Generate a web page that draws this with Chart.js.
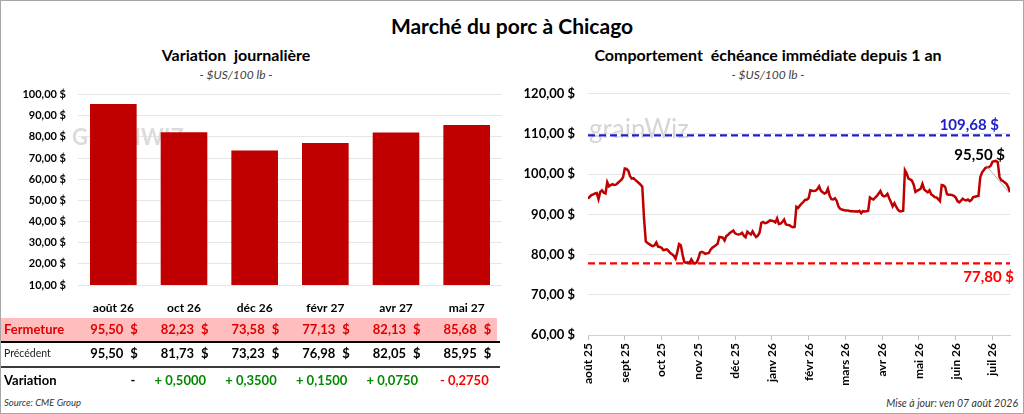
<!DOCTYPE html>
<html>
<head>
<meta charset="utf-8">
<script src="https://cdn.jsdelivr.net/npm/chart.js@4.4.1/dist/chart.umd.min.js"></script>
<style>
  html, body { margin: 0; padding: 0; background: #fff; }
  body { width: 1024px; height: 414px; position: relative; overflow: hidden; font-family: Lato, "Open Sans", sans-serif; }
  .frame { position: absolute; left: 0; top: 0; width: 1022px; height: 412px; border: 1px solid #a6a6a6; }
  .txt { position: absolute; white-space: pre; color: #000; }
  .title { font-weight: bold; font-size: 21px; left: 0; width: 1024px; text-align: center; top: 13px; }
  .sub { font-weight: bold; font-size: 16px; text-align: center; top: 45px; }
  .unit { font-style: italic; font-size: 12px; color: #404040; text-align: center; top: 67px; }
  canvas { position: absolute; }
</style>
</head>
<body>
<div class="frame"></div>
<div class="txt title">Marché du porc à Chicago</div>
<div class="txt sub" style="left:0;width:472px;">Variation  journalière</div>
<div class="txt unit" style="left:0;width:472px;">- $US/100 lb -</div>
<div class="txt sub" style="left:512px;width:512px;">Comportement  échéance immédiate depuis 1 an</div>
<div class="txt unit" style="left:512px;width:512px;">- $US/100 lb -</div>
<div class="txt" style="left:4px;top:397px;font-size:9.5px;font-style:italic;color:#333;">Source: CME Group</div>
<div class="txt" style="right:6px;top:397px;font-size:10.5px;font-style:italic;color:#333;">Mise à jour: ven 07 août 2026</div>

<div style="position:absolute;left:0;top:76px;width:512px;height:338px;"><canvas id="dayChart"></canvas></div>
<div style="position:absolute;left:512px;top:73px;width:512px;height:341px;"><canvas id="yearChart"></canvas></div>

<script>
// contrats du jour
var contracts = ['août 26', 'oct 26', 'déc 26', 'févr 27', 'avr 27', 'mai 27'];
var closeValues = [95.50, 82.23, 73.58, 77.13, 82.13, 85.68];
var prevValues = [95.50, 81.73, 73.23, 76.98, 82.05, 85.95];
var variations = [0, 0.5, 0.35, 0.15, 0.075, -0.275];

// échéance immédiate, séances depuis 1 an
var monthLabels = ['août 25', 'sept 25', 'oct 25', 'nov 25', 'déc 25', 'janv 26', 'févr 26', 'mars 26', 'avr 26', 'mai 26', 'juin 26', 'juil 26'];
var priceSeries = [
  93.9, 94.4, 94.8, 95.0, 95.2, 95.3, 93.8, 95.6, 96.0, 95.4,
  95.2, 98.0, 97.0, 97.3, 97.5, 97.3, 97.4, 97.8, 98.2, 98.6,
  99.2, 101.4, 101.3, 100.9, 99.5, 98.9, 99.0, 98.6, 98.2, 97.8,
  97.4, 96.9, 89.0, 83.3, 82.9, 82.6, 82.3, 82.1, 82.3, 83.0,
  82.0, 81.9, 81.7, 81.1, 81.2, 81.3, 80.9, 80.4, 80.1, 79.7,
  79.0, 80.6, 82.6, 82.3, 80.0, 78.1, 78.0, 78.1, 77.9, 78.8,
  78.1, 77.8, 78.0, 79.0, 80.5, 80.7, 80.5, 80.2, 80.3, 80.4,
  81.2, 81.7, 82.0, 82.3, 82.7, 84.4, 84.3, 84.2, 83.5, 84.6,
  84.9, 85.4, 85.7, 86.0, 85.3, 85.1, 85.0, 85.1, 85.4, 84.7,
  84.3, 85.7, 85.3, 85.0, 85.8, 85.0, 84.4, 84.7, 85.5, 87.9,
  88.1, 87.8, 87.9, 88.2, 88.5, 88.4, 88.3, 88.0, 89.0, 87.6,
  87.7, 88.1, 88.7, 87.5, 87.4, 87.3, 87.0, 86.8, 86.9, 91.9,
  91.6, 92.2, 92.7, 93.1, 93.6, 93.7, 94.0, 96.0, 95.9, 95.8,
  95.9, 96.3, 97.0, 95.9, 95.5, 95.2, 95.4, 96.4, 94.6, 93.8,
  93.7, 94.0, 93.4, 92.0, 91.4, 91.2, 91.1, 91.0, 91.0, 90.9,
  90.8, 90.8, 90.7, 90.8, 90.7, 90.9, 90.3, 90.8, 90.7, 90.8,
  90.9, 94.2, 93.9, 93.7, 94.2, 94.6, 95.2, 95.8, 94.8, 94.5,
  94.6, 95.1, 94.0, 93.1, 92.0, 92.8, 91.9, 91.2, 90.8, 90.8,
  90.9, 101.0, 100.2, 98.9, 98.7, 98.4, 97.4, 95.6, 95.9, 96.1,
  96.4, 97.6, 96.2, 95.8, 95.5, 96.0, 95.0, 94.7, 94.3, 94.2,
  93.8, 93.3, 97.3, 97.2, 96.8, 95.0, 94.9, 94.9, 94.8, 94.6,
  94.2, 93.3, 93.0, 93.4, 93.9, 93.6, 93.5, 93.7, 93.3, 93.6,
  94.3, 94.4, 94.5, 94.6, 99.2, 100.4, 101.0, 101.6, 101.7, 101.8,
  102.1, 103.1, 103.2, 103.3, 103.0, 99.3, 98.5, 98.3, 97.9, 97.6,
  96.8, 95.5
];
var monthStep = 21;
var highValue = 109.68;
var lowValue = 77.80;
var lastValue = 95.50;

var RED = '#c00000';
var FONT = 'Lato, "Open Sans", sans-serif';

function money(v) {
  return v.toFixed(2).replace('.', ',') + ' $';
}
function variationText(v) {
  if (v === 0) return '-';
  return (v > 0 ? '+ ' : '- ') + Math.abs(v).toFixed(4).replace('.', ',');
}

Chart.defaults.font.family = FONT;
Chart.defaults.color = '#000';

// tableau sous le graphique à barres
var tablePlugin = {
  id: 'table',
  afterDraw: function(chart) {
    var ctx = chart.ctx;
    var x = chart.scales.x;
    var top = 76;
    ctx.save();
    ctx.fillStyle = '#ffbdbd';
    ctx.fillRect(1, 318 - top, 496, 23);
    ctx.fillStyle = '#000';
    ctx.fillRect(1, 341 - top, 499, 2);
    ctx.fillStyle = '#3a3a3a';
    ctx.fillRect(1, 366 - top, 499, 2);

    ctx.textBaseline = 'middle';
    ctx.textAlign = 'left';
    ctx.font = 'bold 13px ' + FONT;
    ctx.fillStyle = '#e00000';
    ctx.fillText('Fermeture', 4, 330 - top);
    ctx.font = '10.5px ' + FONT;
    ctx.fillStyle = '#222';
    ctx.fillText('Précédent', 4, 354 - top);
    ctx.font = 'bold 13px ' + FONT;
    ctx.fillStyle = '#000';
    ctx.fillText('Variation', 4, 381 - top);

    contracts.forEach(function(c, i) {
      var cx = x.getPixelForValue(i);
      ctx.font = 'bold 13px ' + FONT;
      ctx.fillStyle = '#e00000';
      ctx.textAlign = 'right';
      ctx.fillText(closeValues[i].toFixed(2).replace('.', ','), cx + 10, 330 - top);
      ctx.textAlign = 'left';
      ctx.fillText('$', cx + 17, 330 - top);
      ctx.fillStyle = '#000';
      ctx.textAlign = 'right';
      ctx.fillText(prevValues[i].toFixed(2).replace('.', ','), cx + 10, 354 - top);
      ctx.textAlign = 'left';
      ctx.fillText('$', cx + 17, 354 - top);
      var v = variations[i];
      ctx.fillStyle = v > 0 ? '#008a00' : (v < 0 ? '#ff0000' : '#000');
      ctx.textAlign = 'right';
      ctx.fillText(variationText(v), cx + 22, 381 - top);
    });
    ctx.restore();
  }
};

var watermarkLeft = {
  id: 'wmLeft',
  beforeDatasetsDraw: function(chart) {
    var ctx = chart.ctx;
    ctx.save();
    ctx.font = 'bold 22px ' + FONT;
    ctx.fillStyle = '#dcdcdc';
    ctx.textBaseline = 'alphabetic';
    ctx.fillText('GRAINWIZ', chart.chartArea.left - 6, 145 - 76);
    ctx.restore();
  }
};

new Chart(document.getElementById('dayChart'), {
  type: 'bar',
  data: {
    labels: contracts,
    datasets: [{
      data: closeValues,
      backgroundColor: RED,
      borderWidth: 0,
      categoryPercentage: 1,
      barPercentage: 0.66
    }]
  },
  options: {
    responsive: true,
    maintainAspectRatio: false,
    animation: false,
    layout: { padding: { top: 10, right: 10, left: 0, bottom: 0 } },
    plugins: { legend: { display: false }, tooltip: { enabled: false } },
    scales: {
      x: {
        grid: { display: false },
        border: { display: false },
        ticks: { font: { size: 12, weight: 'bold' }, padding: 8, color: '#000' },
        afterFit: function(s) { s.height = 129; }
      },
      y: {
        min: 10,
        max: 100,
        ticks: { stepSize: 10, font: { size: 11, weight: 'bold' }, padding: 12, color: '#000', callback: function(v) { return money(v); } },
        grid: { color: '#e6e6e6', drawTicks: false },
        border: { display: false },
        afterFit: function(s) { s.width = 78; }
      }
    }
  },
  plugins: [watermarkLeft, tablePlugin]
});

var annotations = {
  id: 'annotations',
  beforeDatasetsDraw: function(chart) {
    var ctx = chart.ctx;
    ctx.save();
    ctx.font = '26px ' + FONT;
    ctx.fillStyle = '#d6d6d6';
    ctx.fillText('grainWiz', chart.chartArea.left + 1, 138 - 73);
    ctx.restore();
  },
  afterDatasetsDraw: function(chart) {
    var ctx = chart.ctx;
    var x = chart.scales.x, y = chart.scales.y;
    var right = chart.chartArea.right;
    ctx.save();
    ctx.font = 'bold 15px ' + FONT;
    ctx.textAlign = 'right';
    ctx.textBaseline = 'alphabetic';
    ctx.fillStyle = '#2020c8';
    ctx.fillText(money(highValue), right - 11, y.getPixelForValue(highValue) - 5);
    ctx.fillStyle = '#ff0000';
    ctx.fillText(money(lowValue), right + 4, y.getPixelForValue(lowValue) + 19);
    var lx = x.getPixelForValue(priceSeries.length - 1);
    var ly = y.getPixelForValue(lastValue);
    ctx.strokeStyle = '#a0a0a0';
    ctx.lineWidth = 0.8;
    ctx.beginPath();
    ctx.moveTo(lx - 24, ly - 27);
    ctx.lineTo(lx - 2, ly - 1);
    ctx.stroke();
    ctx.fillStyle = '#000';
    ctx.fillText(money(lastValue), lx - 5, ly - 32);
    ctx.restore();
  }
};

new Chart(document.getElementById('yearChart'), {
  type: 'line',
  data: {
    datasets: [
      {
        data: priceSeries.map(function(v, i) { return { x: i, y: v }; }),
        borderColor: RED,
        borderWidth: 2.5,
        pointRadius: 0,
        tension: 0
      },
      {
        data: [{ x: 0, y: highValue }, { x: priceSeries.length - 1, y: highValue }],
        borderColor: '#2020c8',
        borderWidth: 2.2,
        borderDash: [7, 4],
        pointRadius: 0
      },
      {
        data: [{ x: 0, y: lowValue }, { x: priceSeries.length - 1, y: lowValue }],
        borderColor: '#ff0000',
        borderWidth: 2.2,
        borderDash: [7, 4],
        pointRadius: 0
      }
    ]
  },
  options: {
    responsive: true,
    maintainAspectRatio: false,
    animation: false,
    layout: { padding: { top: 6, right: 14, left: 0, bottom: 0 } },
    plugins: { legend: { display: false }, tooltip: { enabled: false } },
    scales: {
      x: {
        type: 'linear',
        min: 0,
        max: priceSeries.length - 1,
        afterBuildTicks: function(s) {
          s.ticks = monthLabels.map(function(m, k) { return { value: k * monthStep }; });
        },
        ticks: {
          autoSkip: false,
          maxRotation: 90,
          minRotation: 90,
          padding: 3,
          font: { size: 12, weight: 'bold' },
          color: '#000',
          callback: function(v) { return monthLabels[Math.round(v / monthStep)]; }
        },
        grid: { drawOnChartArea: false, tickLength: 5, color: '#bfbfbf' },
        border: { color: '#d0d0d0' },
        afterFit: function(s) { s.height = 79; }
      },
      y: {
        min: 60,
        max: 120,
        ticks: { stepSize: 10, font: { size: 13, weight: 'bold' }, padding: 13, color: '#000', callback: function(v) { return money(v); } },
        grid: { color: '#e6e6e6', drawTicks: false },
        border: { display: false },
        afterFit: function(s) { s.width = 76; }
      }
    }
  },
  plugins: [annotations]
});
</script>
</body>
</html>
